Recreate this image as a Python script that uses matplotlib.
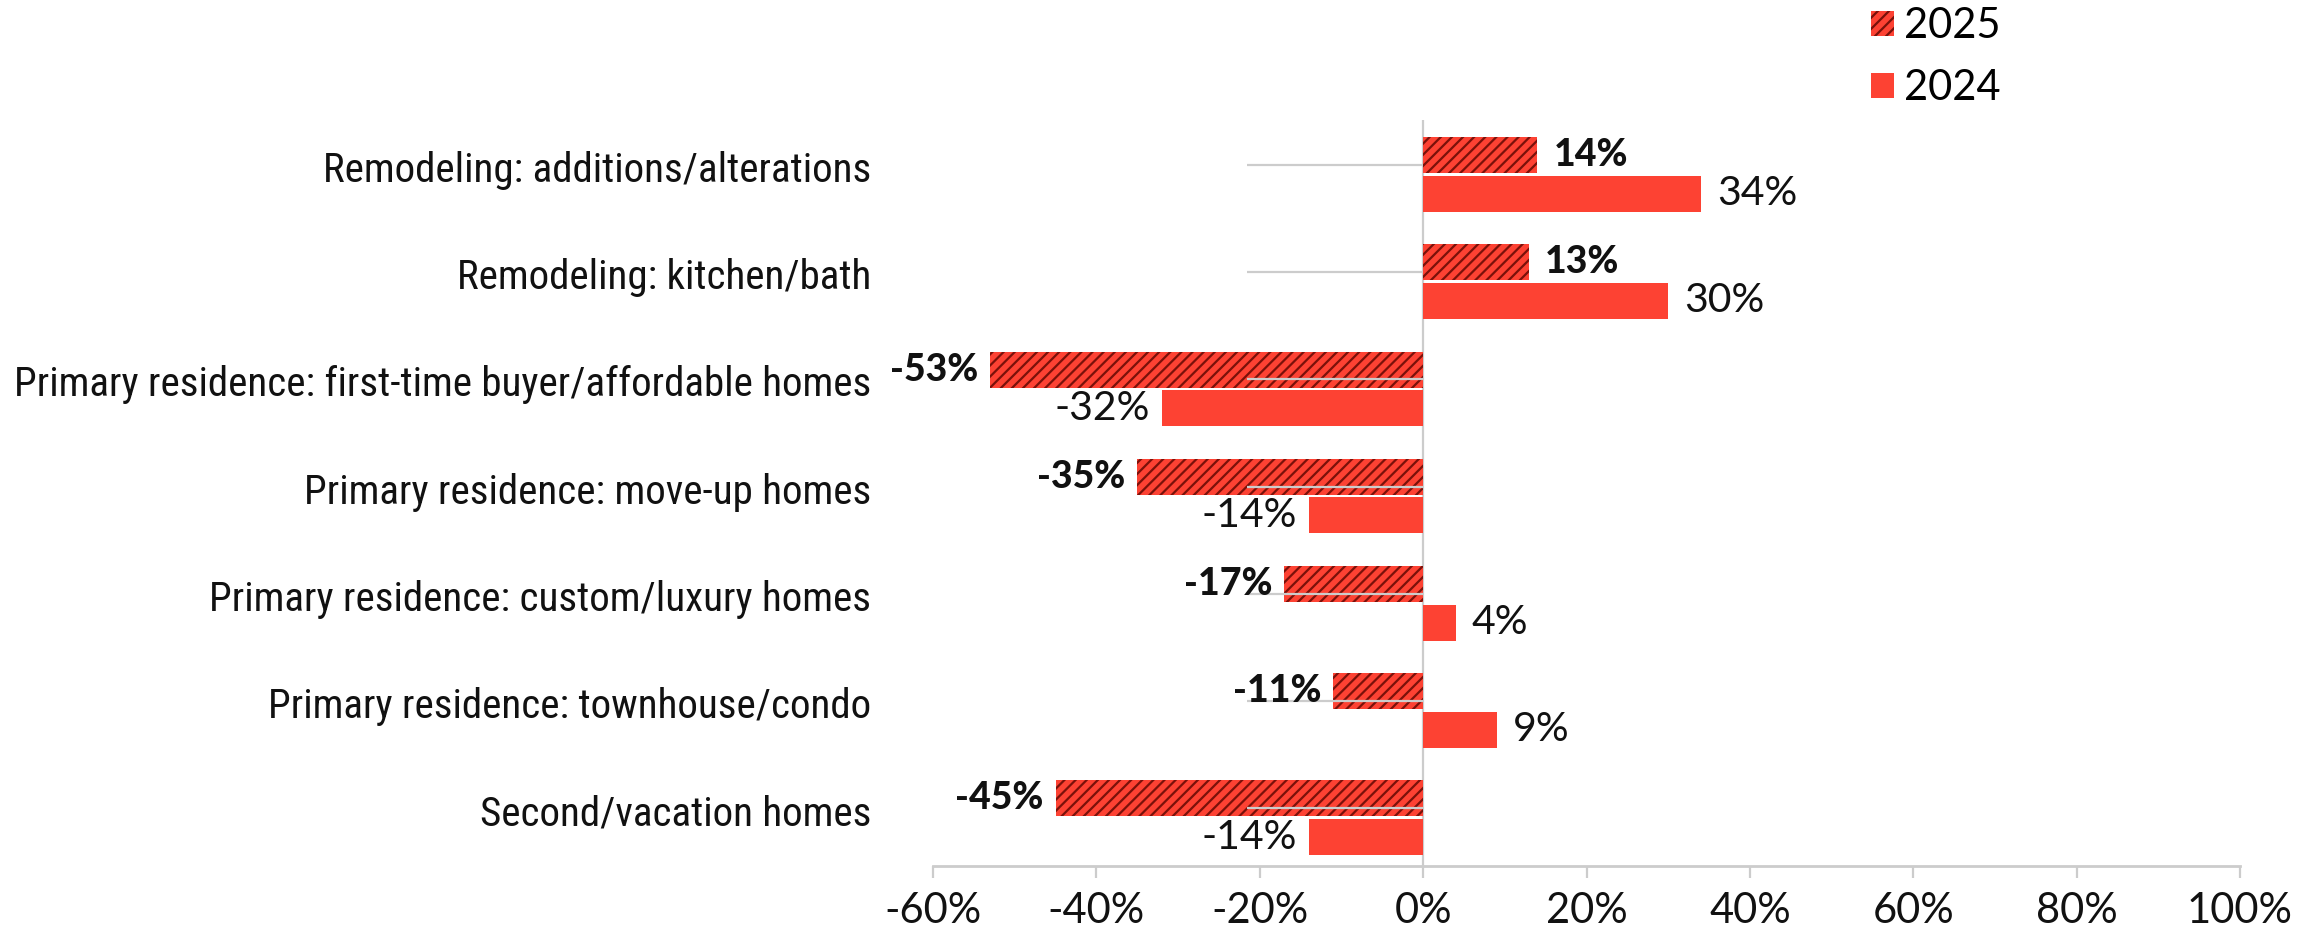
import matplotlib
matplotlib.use("Agg")
import matplotlib.pyplot as plt
import matplotlib.transforms as mtransforms
from matplotlib.patches import Patch
import numpy as np

# ---------------- data ----------------
categories = [
    "Remodeling: additions/alterations",
    "Remodeling: kitchen/bath",
    "Primary residence: first-time buyer/affordable homes",
    "Primary residence: move-up homes",
    "Primary residence: custom/luxury homes",
    "Primary residence: townhouse/condo",
    "Second/vacation homes",
]
values_2025 = [14, 13, -53, -35, -17, -11, -45]
values_2024 = [34, 30, -32, -14, 4, 9, -14]
series_names = ["2025", "2024"]
x_ticks = [-60, -40, -20, 0, 20, 40, 60, 80, 100]
x_tick_labels = [f"{v}%" for v in x_ticks]

# ---------------- style ----------------
RED = "#FD4233"
HATCH_DARK = "#7A110A"
GRID_GRAY = "#CCCCCC"
TEXT = "#111111"
FONT = "Lato"
CAT_FONT = "Roboto Condensed"

plt.rcParams["font.family"] = [FONT, "DejaVu Sans"]
plt.rcParams["hatch.linewidth"] = 1.6

W, H, DPI = 2316, 930, 100
fig = plt.figure(figsize=(W / DPI, H / DPI), dpi=DPI)
ax = fig.add_axes([933 / W, 1 - 866 / H, (2240 - 933) / W, (866 - 120) / H])

y = np.arange(len(categories))
bh = 0.335
off = 0.18

bars25 = ax.barh(y - off, values_2025, height=bh, color=RED, edgecolor=HATCH_DARK,
                 linewidth=0, hatch="///", zorder=2)
bars24 = ax.barh(y + off, values_2024, height=bh, color=RED, linewidth=0, zorder=2)

# gray reference stubs at each category
ax.hlines(y - 0.089, -21.5, 0, color=GRID_GRAY, lw=1.6, zorder=3)
ax.axvline(0, color=GRID_GRAY, lw=1.6, zorder=1)

ax.set_xlim(-60, 100)
ax.set_ylim(len(categories) - 1 + 0.45, -0.508)

ax.set_xticks(x_ticks)
ax.set_xticklabels(x_tick_labels, fontsize=30, color=TEXT)
ax.tick_params(axis="x", length=8.5, width=1.6, color=GRID_GRAY, pad=10)
ax.set_yticks([])

for s in ["left", "right", "top"]:
    ax.spines[s].set_visible(False)
ax.spines["bottom"].set_color(GRID_GRAY)
ax.spines["bottom"].set_linewidth(2.0)

# category labels (right-aligned, ~62 px left of the axes, nudged slightly up)
lab_tr = mtransforms.blended_transform_factory(ax.transAxes, ax.transData) + \
    mtransforms.ScaledTranslation(-62 / DPI, 4 / DPI, fig.dpi_scale_trans)
cat_texts = [ax.text(0, yi, c, transform=lab_tr, ha="right", va="center", color=TEXT,
                     fontsize=28, family=[CAT_FONT, "DejaVu Sans"])
             for yi, c in zip(y, categories)]

# fit category label size to reference width (~856 px for longest label)
fig.canvas.draw()
r = fig.canvas.get_renderer()
wmax = max(t.get_window_extent(r).width for t in cat_texts)
cat_size = 28 * 856 / wmax
for t in cat_texts:
    t.set_fontsize(cat_size)

# value labels
def label(v, yc, bold):
    kw = dict(textcoords="offset points", va="center", color=TEXT,
              fontsize=27 if bold else 29.5,
              fontweight="black" if bold else "normal")
    if v >= 0:
        ax.annotate(f"{v}%", (v, yc), xytext=(11.5, 0), ha="left", **kw)
    else:
        ax.annotate(f"-{abs(v)}%", (v, yc), xytext=(-8.5, 0), ha="right", **kw)

for b, v in zip(bars25, values_2025):
    label(v, b.get_y() + b.get_height() / 2, True)
for b, v in zip(bars24, values_2024):
    label(v, b.get_y() + b.get_height() / 2, False)

leg_fs = 30
handles = [
    Patch(facecolor=RED, edgecolor=HATCH_DARK, linewidth=0, hatch="///", label=series_names[0]),
    Patch(facecolor=RED, linewidth=0, label=series_names[1]),
]
fig.legend(handles=handles, loc="center left", bbox_to_anchor=(1871 / W, 1 - 57.25 / H),
           frameon=False, fontsize=leg_fs, handlelength=0.55, handleheight=0.55,
           handletextpad=0.24, labelspacing=0.58, borderpad=0, borderaxespad=0)

fig.savefig("out.png", dpi=DPI)
